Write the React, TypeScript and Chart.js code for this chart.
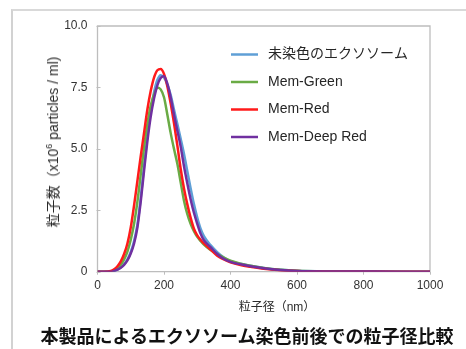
import React, { useEffect, useRef } from "react";
import { Chart, registerables } from "chart.js";

Chart.register(...registerables);

// particle size (nm)
const sizes = [0, 20, 40, 50, 60, 70, 80, 90, 100, 110, 120, 130, 140, 150, 160, 170, 180, 190, 200, 210, 220, 230, 240, 250, 260, 270, 280, 290, 300, 310, 320, 340, 360, 380, 400, 430, 460, 500, 550, 600, 700, 800, 900, 1000];

const unstained = [0, 0, 0, 0.03, 0.08, 0.17, 0.3, 0.5, 0.8, 1.25, 1.92, 3.0, 4.3, 5.5, 6.55, 7.3, 7.8, 8.0, 7.9, 7.62, 7.2, 6.6, 6.02, 5.42, 4.8, 4.1, 3.4, 2.75, 2.2, 1.75, 1.45, 1.08, 0.8, 0.58, 0.43, 0.32, 0.24, 0.15, 0.08, 0.04, 0.015, 0.01, 0.005, 0];
const memGreen = [0, 0, 0.01, 0.05, 0.13, 0.28, 0.5, 0.82, 1.3, 1.95, 2.85, 3.95, 5.05, 6.0, 6.75, 7.2, 7.5, 7.42, 7.1, 6.4, 5.65, 5.0, 4.4, 3.65, 2.9, 2.35, 1.95, 1.65, 1.42, 1.25, 1.1, 0.88, 0.72, 0.57, 0.45, 0.33, 0.24, 0.15, 0.08, 0.04, 0.015, 0.005, 0, 0];
const memRed = [0, 0, 0.03, 0.1, 0.22, 0.42, 0.72, 1.15, 1.8, 2.7, 3.7, 4.7, 5.65, 6.6, 7.35, 7.9, 8.2, 8.25, 8.05, 7.55, 6.85, 6.05, 5.15, 4.2, 3.4, 2.75, 2.2, 1.75, 1.48, 1.3, 1.15, 0.9, 0.65, 0.5, 0.38, 0.27, 0.2, 0.12, 0.06, 0.03, 0.01, 0.005, 0, 0];
const memDeepRed = [0, 0, 0, 0.03, 0.08, 0.16, 0.28, 0.46, 0.74, 1.15, 1.8, 2.85, 4.1, 5.3, 6.3, 7.05, 7.58, 7.88, 7.95, 7.65, 7.1, 6.4, 5.75, 5.1, 4.3, 3.6, 2.95, 2.4, 1.95, 1.55, 1.28, 1.0, 0.72, 0.52, 0.4, 0.3, 0.22, 0.14, 0.07, 0.03, 0.01, 0.005, 0, 0];

const seriesLabels = ["未染色のエクソソーム", "Mem-Green", "Mem-Red", "Mem-Deep Red"];
const seriesColors = ["#5f9fd6", "#6aab45", "#ff1a1a", "#7030a0"];

const xTicks = [0, 200, 400, 600, 800, 1000];
const yTicks = [0, 2.5, 5, 7.5, 10];

const yTitleMain = "粒子数（x10";
const yTitleSup = "6";
const yTitleRest = " particles / ml)";
const xTitle = "粒子径（nm）";
const caption = "本製品によるエクソソーム染色前後での粒子径比較";

const FONT = "'Liberation Sans', 'Noto Sans CJK JP', sans-serif";

const framePlugin = {
  id: "frameAndLegend",
  beforeDatasetsDraw(chart: any) {
    const { ctx, chartArea } = chart;
    const { left, top, right, bottom } = chartArea;
    ctx.save();
    ctx.strokeStyle = "#bdbdbd";
    ctx.lineWidth = 1.3;
    ctx.beginPath();
    ctx.moveTo(left, bottom);
    ctx.lineTo(left, top);
    ctx.lineTo(right, top);
    ctx.lineTo(right, bottom);
    ctx.lineTo(left, bottom);
    ctx.stroke();
    const ys = chart.scales.y;
    ctx.lineWidth = 1;
    for (const v of yTicks) {
      const y = Math.round(ys.getPixelForValue(v)) + 0.5;
      ctx.beginPath();
      ctx.moveTo(left - 1, y);
      ctx.lineTo(left + 3, y);
      ctx.stroke();
    }
    ctx.restore();
  },
  afterDatasetsDraw(chart: any) {
    const { ctx } = chart;
    ctx.save();
    const rows = [54.5, 82, 109.5, 137];
    chart.data.datasets.forEach((ds: any, i: number) => {
      const y = rows[i];
      ctx.strokeStyle = ds.borderColor;
      ctx.lineWidth = 2.5;
      ctx.beginPath();
      ctx.moveTo(231, y);
      ctx.lineTo(258, y);
      ctx.stroke();
      ctx.fillStyle = "#262626";
      ctx.font = `14px ${FONT}`;
      ctx.textBaseline = "middle";
      ctx.textAlign = "left";
      ctx.fillText(ds.label, 268, y);
    });
    ctx.restore();
  },
};

export default function App() {
  const canvasRef = useRef<HTMLCanvasElement | null>(null);

  useEffect(() => {
    document.body.style.margin = "0";
    const canvas = canvasRef.current;
    if (!canvas) return;
    const series = [unstained, memGreen, memRed, memDeepRed];
    const chart = new Chart(canvas, {
      type: "line",
      data: {
        datasets: series.map((arr, i) => ({
          label: seriesLabels[i],
          data: sizes.map((x, j) => ({ x, y: arr[j] })),
          borderColor: seriesColors[i],
          backgroundColor: seriesColors[i],
          borderWidth: 2.5,
          pointRadius: 0,
          fill: false,
          cubicInterpolationMode: "monotone",
          order: 4 - i,
        })),
      },
      options: {
        animation: false,
        responsive: false,
        devicePixelRatio: 1,
        layout: { padding: { left: 0, top: 26, right: 36, bottom: 0 } },
        plugins: {
          legend: { display: false },
          tooltip: { enabled: false },
          title: { display: false },
        },
        scales: {
          x: {
            type: "linear",
            min: 0,
            max: 1000,
            afterBuildTicks: (s: any) => {
              s.ticks = xTicks.map((v) => ({ value: v }));
            },
            afterFit: (s: any) => {
              s.height = 77.3;
            },
            border: { display: false },
            grid: {
              display: true,
              drawOnChartArea: false,
              drawTicks: true,
              tickLength: 3,
              color: "#bdbdbd",
              lineWidth: 1,
            },
            ticks: {
              padding: 4,
              color: "#333333",
              font: { family: FONT, size: 12 },
              maxRotation: 0,
              callback: (v: any) => String(v),
            },
          },
          y: {
            type: "linear",
            min: 0,
            max: 10,
            afterBuildTicks: (s: any) => {
              s.ticks = yTicks.map((v) => ({ value: v }));
            },
            afterFit: (s: any) => {
              s.width = 97.5;
            },
            border: { display: false },
            grid: { display: false, drawTicks: false },
            ticks: {
              padding: 10,
              color: "#333333",
              font: { family: FONT, size: 12 },
              callback: (v: any) => (Number(v) === 0 ? "0" : Number(v).toFixed(1)),
            },
          },
        },
      },
      plugins: [framePlugin],
    } as any);
    return () => chart.destroy();
  }, []);

  return (
    <div
      style={{
        position: "relative",
        width: 466,
        height: 349,
        overflow: "hidden",
        background: "#ffffff",
        fontFamily: FONT,
      }}
    >
      <div
        style={{
          position: "absolute",
          left: 11,
          top: 9,
          width: 480,
          height: 380,
          borderTop: "2px solid #d9d9d9",
          borderLeft: "2px solid #d2d2d2",
        }}
      />
      <canvas
        ref={canvasRef}
        width={466}
        height={349}
        style={{ position: "absolute", left: 0, top: 0, width: 466, height: 349 }}
      />
      <div
        style={{
          position: "absolute",
          left: 53,
          top: 142,
          transform: "translate(-50%, -50%) rotate(-90deg)",
          whiteSpace: "nowrap",
          fontSize: 14,
          lineHeight: "16px",
          color: "#2a2a2a",
        }}
      >
        {yTitleMain}
        <sup style={{ fontSize: 9, lineHeight: 0, verticalAlign: "super" }}>{yTitleSup}</sup>
        {yTitleRest}
      </div>
      <div
        style={{
          position: "absolute",
          left: 277,
          top: 307,
          transform: "translate(-50%, -50%)",
          whiteSpace: "nowrap",
          fontSize: 12,
          lineHeight: "14px",
          color: "#2a2a2a",
        }}
      >
        {xTitle}
      </div>
      <div
        style={{
          position: "absolute",
          left: 247,
          top: 335,
          transform: "translate(-50%, -50%)",
          whiteSpace: "nowrap",
          fontSize: 18,
          fontWeight: 700,
          lineHeight: "20px",
          color: "#111111",
          fontFamily: "'Noto Sans CJK JP', sans-serif",
        }}
      >
        {caption}
      </div>
    </div>
  );
}
